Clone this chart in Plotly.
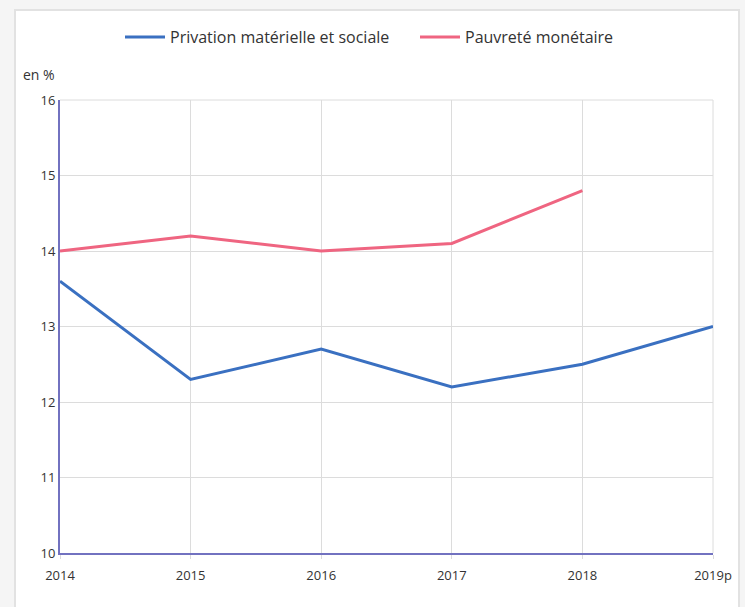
import plotly.graph_objects as go

years = ["2014", "2015", "2016", "2017", "2018", "2019p"]
privation = [13.6, 12.3, 12.7, 12.2, 12.5, 13.0]
pauvrete = [14.0, 14.2, 14.0, 14.1, 14.8]

xpos = list(range(len(years)))

W, H = 745, 607
ml, mr, mt, mb = 60, 32, 100, 54
pw, ph = W - ml - mr, H - mt - mb

def px(x):
    return (x - ml) / pw

def py(y):
    return (H - mb - y) / ph

fig = go.Figure()
fig.add_trace(go.Scatter(x=xpos, y=privation, mode="lines", name="Privation matérielle et sociale",
                         line=dict(color="#3a70c1", width=3)))
fig.add_trace(go.Scatter(x=xpos[:len(pauvrete)], y=pauvrete, mode="lines", name="Pauvreté monétaire",
                         line=dict(color="#ef6581", width=3)))

fig.update_layout(
    width=W, height=H,
    margin=dict(l=ml, r=mr, t=mt, b=mb),
    paper_bgcolor="#f5f5f5",
    plot_bgcolor="white",
    font=dict(family="Open Sans, sans-serif", size=13, color="#333333"),
    showlegend=True,
    legend=dict(orientation="h", x=px(120), xanchor="left", y=py(37), yanchor="middle",
                font=dict(size=16, color="#333333"), bgcolor="rgba(0,0,0,0)",
                itemwidth=40, tracegroupgap=0, entrywidth=240, entrywidthmode="pixels"),
    xaxis=dict(range=[0, 5], tickvals=xpos, ticktext=years, showgrid=True, gridcolor="#dcdcdc",
               gridwidth=1, showline=True, linecolor="#7272c0", linewidth=2, zeroline=False,
               ticks="outside", ticklen=4, tickcolor="#dcdcdc", tickfont=dict(size=13),
               ticklabelstandoff=5),
    yaxis=dict(range=[10, 16], dtick=1, showgrid=True, gridcolor="#dcdcdc", gridwidth=1,
               showline=True, linecolor="#7272c0", linewidth=2, zeroline=False,
               ticks="", tickfont=dict(size=13)),
    shapes=[
        dict(type="rect", xref="paper", yref="paper", x0=px(15), x1=px(739), y0=py(640), y1=py(10),
             fillcolor="white", line=dict(color="#e2e2e2", width=2), layer="below"),
        dict(type="line", xref="paper", yref="paper", x0=1, x1=1, y0=0, y1=1,
             line=dict(color="#dcdcdc", width=1), layer="below"),
        dict(type="line", xref="paper", yref="paper", x0=0, x1=1, y0=1, y1=1,
             line=dict(color="#dcdcdc", width=1), layer="below"),
    ],
    annotations=[
        dict(text="en %", xref="paper", yref="paper", x=px(21), y=py(75), xanchor="left", yanchor="middle",
             showarrow=False, font=dict(size=14, color="#333333")),
    ],
)

fig.write_html("out.html")
